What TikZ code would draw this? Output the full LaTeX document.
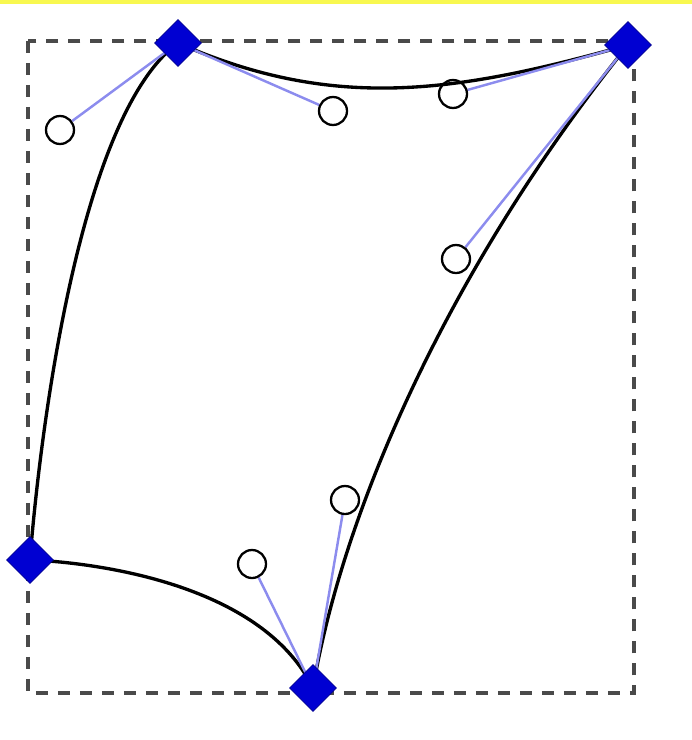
\documentclass[tikz,border=0pt]{standalone}
\usepackage{xcolor}
\usepackage{tikz}
\usetikzlibrary{shapes.geometric,backgrounds}
\definecolor{knotblue}{HTML}{0000D2}
\definecolor{handleline}{HTML}{8C8CEE}
\definecolor{framegray}{HTML}{4A4A4A}
\definecolor{stripyellow}{HTML}{F8F850}
\tikzset{
  knot/.style={diamond,aspect=1,fill=knotblue,draw=knotblue!70!black,line width=0.4pt,inner sep=0pt,minimum width=0.94cm,minimum height=0.94cm},
  handle/.style={circle,draw=black,line width=1.3pt,inner sep=0pt,minimum size=0.56cm},
  handlelink/.style={draw=handleline,line width=1.4pt},
  pathcurve/.style={draw=black,line width=1.9pt},
  bbox/.style={draw=framegray,line width=1.9pt,dash pattern=on 0.24cm off 0.2cm},
}

\begin{document}
\begin{tikzpicture}[x=0.02cm,y=-0.02cm]
    \useasboundingbox (0,0) rectangle (692,740);
    \fill[stripyellow] (0,0) rectangle (692,4);
    % selection frame
    \draw[bbox] (28,41) rectangle (634,693);
    % handles
    \node[handle] (h1) at (60,130) {};
    \node[handle] (h2) at (333,111) {};
    \node[handle] (h3) at (453,94) {};
    \node[handle] (h4) at (456,259) {};
    \node[handle] (h5) at (345,500) {};
    \node[handle] (h6) at (252,564) {};
    % knots
    \node[knot] (ktop) at (178,43) {};
    \node[knot] (kright) at (628,45) {};
    \node[knot] (kleft) at (30,560) {};
    \node[knot] (kbottom) at (313,688) {};
    \begin{scope}[on background layer]
      \draw[pathcurve] (ktop.center) .. controls (h2.center) and (h3.center) .. (kright.center);
      \draw[pathcurve] (kright.center) .. controls (h4.center) and (h5.center) .. (kbottom.center);
      \draw[pathcurve] (kbottom.center) .. controls (h6.center) and (kleft.center) .. (kleft.center);
      \draw[pathcurve] (kleft.center) .. controls (kleft.center) and (h1.center) .. (ktop.center);
      \draw[handlelink] (ktop.center)--(h1); \draw[handlelink] (ktop.center)--(h2);
      \draw[handlelink] (kright.center)--(h3); \draw[handlelink] (kright.center)--(h4);
      \draw[handlelink] (kbottom.center)--(h5); \draw[handlelink] (kbottom.center)--(h6);
    \end{scope}
  \end{tikzpicture}
\end{document}
